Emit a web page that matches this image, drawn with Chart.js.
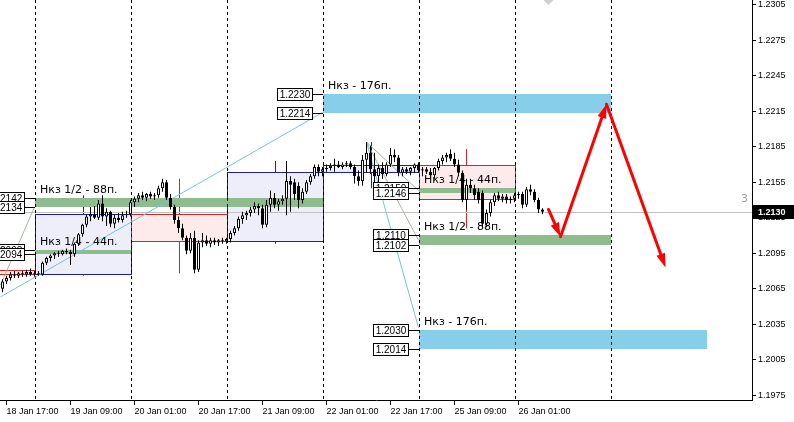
<!DOCTYPE html>
<html>
<head>
<meta charset="utf-8">
<script src="https://cdn.jsdelivr.net/npm/chart.js@4/dist/chart.umd.min.js"></script>
<style>
  html, body { margin: 0; padding: 0; background: #fff; }
  #wrap { width: 794px; height: 422px; }
</style>
</head>
<body>
<div id="wrap"><canvas id="grafico"></canvas></div>
<script>
// velas H1 (indice da barra = hora de negociacao)
var barOpen = [
  1.2065,1.2071,1.2074,1.2077,1.2076,1.2078,1.2077,1.2079,1.2077,1.2078,
  1.2077,1.2087,1.2091,1.2093,1.2095,1.2094,1.2097,1.2096,1.2094,1.2103,
  1.2111,1.2119,1.2126,1.2128,1.2125,1.2137,1.2126,1.2130,1.2120,1.2125,
  1.2123,1.2127,1.2128,1.2138,1.2141,1.2144,1.2142,1.2145,1.2143,1.2144,
  1.2150,1.2155,1.2142,1.2134,1.2123,1.2116,1.2108,1.2097,1.2108,1.2081,
  1.2104,1.2106,1.2103,1.2106,1.2104,1.2106,1.2105,1.2107,1.2112,1.2116,
  1.2124,1.2127,1.2129,1.2132,1.2135,1.2133,1.2119,1.2136,1.2142,1.2136,
  1.2139,1.2141,1.2156,1.2155,1.2152,1.2140,1.2147,1.2155,1.2160,1.2168,
  1.2164,1.2166,1.2167,1.2169,1.2170,1.2168,1.2170,1.2171,1.2168,1.2160,
  1.2156,1.2174,1.2180,1.2166,1.2160,1.2167,1.2162,1.2170,1.2178,1.2176,
  1.2163,1.2166,1.2164,1.2167,1.2170,1.2165,1.2166,1.2164,1.2161,1.2167,
  1.2173,1.2176,1.2179,1.2175,1.2170,1.2163,1.2140,1.2153,1.2150,1.2147,
  1.2146,1.2120,1.2129,1.2138,1.2144,1.2141,1.2143,1.2140,1.2141,1.2144,
  1.2145,1.2136,1.2149,1.2147,1.2140,1.2132
];
var barHigh = [
  1.2073,1.2076,1.2079,1.2080,1.2079,1.2080,1.2081,1.2082,1.2080,1.2080,
  1.2088,1.2092,1.2094,1.2096,1.2097,1.2098,1.2099,1.2098,1.2104,1.2112,
  1.2120,1.2128,1.2134,1.2135,1.2140,1.2144,1.2133,1.2131,1.2128,1.2129,
  1.2130,1.2131,1.2140,1.2143,1.2146,1.2147,1.2146,1.2147,1.2146,1.2152,
  1.2158,1.2157,1.2145,1.2136,1.2126,1.2120,1.2110,1.2112,1.2114,1.2106,
  1.2112,1.2110,1.2108,1.2108,1.2107,1.2108,1.2108,1.2114,1.2118,1.2126,
  1.2130,1.2131,1.2134,1.2138,1.2137,1.2136,1.2140,1.2148,1.2146,1.2141,
  1.2144,1.2173,1.2160,1.2158,1.2155,1.2150,1.2157,1.2162,1.2170,1.2170,
  1.2168,1.2170,1.2171,1.2175,1.2173,1.2172,1.2173,1.2173,1.2170,1.2165,
  1.2178,1.2189,1.2186,1.2180,1.2170,1.2172,1.2172,1.2184,1.2183,1.2178,
  1.2168,1.2168,1.2168,1.2171,1.2172,1.2168,1.2168,1.2167,1.2168,1.2175,
  1.2178,1.2180,1.2183,1.2180,1.2174,1.2165,1.2158,1.2158,1.2153,1.2150,
  1.2148,1.2132,1.2140,1.2146,1.2147,1.2145,1.2145,1.2143,1.2146,1.2147,
  1.2147,1.2151,1.2153,1.2149,1.2142,1.2133
];
var barLow = [
  1.2062,1.2069,1.2072,1.2074,1.2074,1.2075,1.2075,1.2076,1.2075,1.2076,
  1.2076,1.2085,1.2088,1.2090,1.2092,1.2093,1.2094,1.2085,1.2092,1.2101,
  1.2109,1.2117,1.2122,1.2124,1.2123,1.2122,1.2118,1.2117,1.2116,1.2121,
  1.2121,1.2125,1.2126,1.2134,1.2138,1.2140,1.2139,1.2141,1.2140,1.2142,
  1.2147,1.2140,1.2132,1.2120,1.2112,1.2106,1.2094,1.2095,1.2078,1.2079,
  1.2100,1.2101,1.2100,1.2102,1.2101,1.2103,1.2103,1.2104,1.2110,1.2114,
  1.2120,1.2123,1.2126,1.2129,1.2127,1.2116,1.2117,1.2130,1.2133,1.2131,
  1.2136,1.2127,1.2130,1.2140,1.2133,1.2137,1.2145,1.2153,1.2158,1.2160,
  1.2160,1.2164,1.2165,1.2164,1.2167,1.2166,1.2168,1.2166,1.2154,1.2152,
  1.2152,1.2163,1.2162,1.2150,1.2150,1.2158,1.2160,1.2168,1.2172,1.2160,
  1.2160,1.2162,1.2161,1.2163,1.2163,1.2160,1.2162,1.2159,1.2158,1.2165,
  1.2170,1.2172,1.2173,1.2168,1.2160,1.2138,1.2132,1.2146,1.2140,1.2137,
  1.2116,1.2117,1.2126,1.2135,1.2139,1.2138,1.2137,1.2137,1.2138,1.2141,
  1.2133,1.2134,1.2144,1.2138,1.2129,1.2128
];
var barClose = [
  1.2071,1.2074,1.2077,1.2076,1.2078,1.2077,1.2079,1.2077,1.2078,1.2077,
  1.2087,1.2091,1.2093,1.2095,1.2094,1.2097,1.2096,1.2094,1.2103,1.2111,
  1.2119,1.2126,1.2128,1.2125,1.2137,1.2126,1.2130,1.2120,1.2125,1.2123,
  1.2127,1.2128,1.2138,1.2141,1.2144,1.2142,1.2145,1.2143,1.2144,1.2150,
  1.2155,1.2142,1.2134,1.2123,1.2116,1.2108,1.2097,1.2108,1.2081,1.2104,
  1.2106,1.2103,1.2106,1.2104,1.2106,1.2105,1.2107,1.2112,1.2116,1.2124,
  1.2127,1.2129,1.2132,1.2135,1.2133,1.2119,1.2136,1.2142,1.2136,1.2139,
  1.2141,1.2156,1.2153,1.2145,1.2140,1.2147,1.2155,1.2160,1.2168,1.2164,
  1.2166,1.2167,1.2169,1.2170,1.2168,1.2170,1.2171,1.2168,1.2160,1.2156,
  1.2174,1.2180,1.2166,1.2160,1.2167,1.2162,1.2170,1.2178,1.2176,1.2163,
  1.2166,1.2164,1.2167,1.2170,1.2165,1.2166,1.2164,1.2161,1.2167,1.2173,
  1.2176,1.2178,1.2175,1.2170,1.2163,1.2140,1.2153,1.2150,1.2144,1.2140,
  1.2120,1.2129,1.2138,1.2144,1.2141,1.2143,1.2140,1.2141,1.2144,1.2145,
  1.2136,1.2149,1.2147,1.2140,1.2132,1.2130
];

var tickBars = [1, 17, 33, 49, 65, 81, 97, 113, 129];
var tickLabels = ["18 Jan 17:00", "19 Jan 09:00", "20 Jan 01:00", "20 Jan 17:00", "21 Jan 09:00",
                  "22 Jan 01:00", "22 Jan 17:00", "25 Jan 09:00", "26 Jan 01:00"];
var priceTicks = [1.1975, 1.2005, 1.2035, 1.2065, 1.2095, 1.2125, 1.2155, 1.2185, 1.2215, 1.2245, 1.2275, 1.2305];
var precoAtual = 1.2130;
var separadores = [8, 32, 56, 80, 104, 128, 152];

// velas diarias (caixas)
var diaInicio = [-16, 8, 32, 56, 80, 104];
var diaAbertura = [1.2081, 1.2077, 1.2128, 1.2105, 1.2164, 1.2170];
var diaMax = [1.2090, 1.2144, 1.2158, 1.2173, 1.2189, 1.2183];
var diaMin = [1.2060, 1.2076, 1.2078, 1.2103, 1.2150, 1.2116];
var diaFecho = [1.2077, 1.2128, 1.2105, 1.2164, 1.2170, 1.2141];

// zonas Нкз
var zonaInicio = [80, 104, 8, 8, 104, 104];
var zonaFim = [152, 176, 80, 32, 128, 152];
var zonaTopo = [1.2230, 1.2030, 1.2142, 1.2098, 1.2150, 1.2110];
var zonaBase = [1.2214, 1.2014, 1.2134, 1.2094, 1.2146, 1.2102];
var zonaTexto = ["Нкз - 176п.", "Нкз - 176п.", "Нкз 1/2 - 88п.", "Нкз 1/4 - 44п.", "Нкз 1/4 - 44п.", "Нкз 1/2 - 88п."];

// linhas de projeccao: origem -> zona
var linhaX1 = [-0.5, -0.5, 91, 91, 91];
var linhaY1 = [1.2058, 1.2068, 1.2189, 1.2189, 1.2189];
var linhaZona = [0, 2, 4, 5, 1];
var linhaY2 = [1.2214, 1.2134, 1.2148, 1.2106, 1.2032];

// setas vermelhas (cenario)
var setaBar = [136.5, 139.5, 151, 165.75];
var setaPreco = [1.2132, 1.2109, 1.2221, 1.2083];

var marcaBar = 136.5;
var contagem = "3";

function px(v) { return Math.round(v) + 0.5; }

function pontaSeta(ctx, xa, ya, xb, yb) {
  var ang = Math.atan2(yb - ya, xb - xa);
  var L = 14, W = 4.5;
  var c = Math.cos(ang), s = Math.sin(ang);
  ctx.beginPath();
  ctx.moveTo(xb, yb);
  ctx.lineTo(xb - L * c + W * s, yb - L * s - W * c);
  ctx.lineTo(xb - L * c - W * s, yb - L * s + W * c);
  ctx.closePath();
  ctx.fill();
}

var desenho = {
  id: 'desenho',
  beforeDatasetsDraw: function(chart) {
    var ctx = chart.ctx, xs = chart.scales.x, ys = chart.scales.y, area = chart.chartArea;
    ctx.save();
    ctx.beginPath();
    ctx.rect(area.left, area.top, area.right - area.left, area.bottom - area.top);
    ctx.clip();
    ctx.lineWidth = 1;

    // caixas dos dias
    for (var d = 0; d < diaInicio.length; d++) {
      var x1 = px(xs.getPixelForValue(diaInicio[d]));
      var x2 = px(xs.getPixelForValue(diaInicio[d] + 24));
      var alta = diaFecho[d] >= diaAbertura[d];
      var yT = px(ys.getPixelForValue(Math.max(diaAbertura[d], diaFecho[d])));
      var yB = px(ys.getPixelForValue(Math.min(diaAbertura[d], diaFecho[d])));
      ctx.fillStyle = alta ? '#eeeefb' : '#fdeaea';
      ctx.fillRect(x1, yT, x2 - x1, yB - yT);
      ctx.strokeStyle = alta ? '#1e1ea6' : '#d42424';
      ctx.strokeRect(x1, yT, x2 - x1, yB - yT);
      var xc = px(xs.getPixelForValue(diaInicio[d] + 12));
      ctx.beginPath();
      ctx.moveTo(xc, ys.getPixelForValue(diaMax[d]));
      ctx.lineTo(xc, yT);
      ctx.moveTo(xc, yB);
      ctx.lineTo(xc, ys.getPixelForValue(diaMin[d]));
      ctx.stroke();
    }

    // zonas
    for (var z = 0; z < zonaInicio.length; z++) {
      var zx1 = Math.round(xs.getPixelForValue(zonaInicio[z]));
      var zx2 = Math.round(xs.getPixelForValue(zonaFim[z]));
      var zy1 = Math.round(ys.getPixelForValue(zonaTopo[z]));
      var zy2 = Math.round(ys.getPixelForValue(zonaBase[z]));
      ctx.fillStyle = zonaTexto[z].indexOf('176') >= 0 ? '#87ceeb' : '#8fbc8f';
      ctx.fillRect(zx1, zy1, zx2 - zx1, zy2 - zy1);
    }

    // preco actual
    var yp = px(ys.getPixelForValue(precoAtual));
    ctx.strokeStyle = '#c0c0c0';
    ctx.beginPath();
    ctx.moveTo(area.left, yp);
    ctx.lineTo(area.right, yp);
    ctx.stroke();

    // separadores de dia
    ctx.strokeStyle = '#000';
    ctx.setLineDash([3, 3]);
    separadores.forEach(function(b) {
      var xx = px(xs.getPixelForValue(b));
      ctx.beginPath();
      ctx.moveTo(xx, area.top);
      ctx.lineTo(xx, area.bottom);
      ctx.stroke();
    });
    ctx.setLineDash([]);

    // linhas de projeccao
    for (var l = 0; l < linhaX1.length; l++) {
      var zi = linhaZona[l];
      ctx.strokeStyle = zonaTexto[zi].indexOf('176') >= 0 ? '#72c4dc' : '#9cba9c';
      ctx.beginPath();
      ctx.moveTo(xs.getPixelForValue(linhaX1[l]), ys.getPixelForValue(linhaY1[l]));
      ctx.lineTo(xs.getPixelForValue(zonaInicio[zi]), ys.getPixelForValue(linhaY2[l]));
      ctx.stroke();
    }

    // textos das zonas
    ctx.fillStyle = '#000';
    ctx.font = '11px "DejaVu Sans"';
    ctx.textAlign = 'left';
    ctx.textBaseline = 'alphabetic';
    for (var t = 0; t < zonaTexto.length; t++) {
      ctx.fillText(zonaTexto[t], Math.round(xs.getPixelForValue(zonaInicio[t])) + 5,
                   Math.round(ys.getPixelForValue(zonaTopo[t])) - 5);
    }
    ctx.restore();
  },
  afterDatasetsDraw: function(chart) {
    var ctx = chart.ctx, xs = chart.scales.x, ys = chart.scales.y, area = chart.chartArea;
    ctx.save();
    ctx.beginPath();
    ctx.rect(area.left, area.top, area.right - area.left, area.bottom - area.top);
    ctx.clip();

    // setas
    ctx.strokeStyle = '#ff0000';
    ctx.fillStyle = '#ff0000';
    ctx.lineWidth = 3;
    ctx.lineCap = 'round';
    for (var a = 0; a < setaBar.length - 1; a++) {
      var xa = xs.getPixelForValue(setaBar[a]), ya = ys.getPixelForValue(setaPreco[a]);
      var xb = xs.getPixelForValue(setaBar[a + 1]), yb = ys.getPixelForValue(setaPreco[a + 1]);
      var ang = Math.atan2(yb - ya, xb - xa);
      ctx.beginPath();
      ctx.moveTo(xa, ya);
      ctx.lineTo(xb - 9 * Math.cos(ang), yb - 9 * Math.sin(ang));
      ctx.stroke();
      pontaSeta(ctx, xa, ya, xb, yb);
    }

    // etiquetas de preco das zonas
    ctx.lineWidth = 1;
    ctx.lineCap = 'butt';
    ctx.font = '10px "Liberation Sans"';
    ctx.textAlign = 'center';
    ctx.textBaseline = 'middle';
    for (var z = 0; z < zonaInicio.length; z++) {
      var x0 = Math.round(xs.getPixelForValue(zonaInicio[z]));
      [zonaTopo[z], zonaBase[z]].forEach(function(p) {
        var yy = Math.round(ys.getPixelForValue(p));
        var right = x0 - 11;
        ctx.fillStyle = '#fff';
        ctx.fillRect(right - 35, yy - 6, 35, 12);
        ctx.strokeStyle = '#000';
        ctx.strokeRect(right - 35 + 0.5, yy - 6 + 0.5, 35, 12);
        ctx.beginPath();
        ctx.moveTo(right, yy + 0.5);
        ctx.lineTo(x0, yy + 0.5);
        ctx.stroke();
        ctx.fillStyle = '#000';
        ctx.fillText(p.toFixed(4), right - 17, yy + 1);
      });
    }

    // marca cinzenta no topo
    var mx = xs.getPixelForValue(marcaBar);
    ctx.fillStyle = '#cfcfcf';
    ctx.beginPath();
    ctx.moveTo(mx - 5, area.top);
    ctx.lineTo(mx + 5, area.top);
    ctx.lineTo(mx, area.top + 5);
    ctx.closePath();
    ctx.fill();
    ctx.restore();

    // etiqueta do preco actual no eixo
    var yp = Math.round(ys.getPixelForValue(precoAtual));
    ctx.save();
    ctx.fillStyle = '#000';
    ctx.fillRect(area.right + 1, yp - 7, 41, 14);
    ctx.fillStyle = '#fff';
    ctx.font = 'bold 9px "Liberation Sans"';
    ctx.textAlign = 'left';
    ctx.textBaseline = 'middle';
    ctx.fillText(precoAtual.toFixed(4), area.right + 6, yp + 0.5);
    ctx.fillStyle = '#a0a0a0';
    ctx.font = '11px "DejaVu Sans"';
    ctx.textAlign = 'right';
    ctx.fillText(contagem, area.right - 4, yp - 13);
    ctx.restore();
  }
};

var velas = barOpen.map(function(o, i) { return { x: i, y: [o, barClose[i]] }; });
var pavios = barLow.map(function(l, i) { return { x: i, y: [l, barHigh[i]] }; });
var corCorpo = barOpen.map(function(o, i) { return barClose[i] >= o ? '#ffffff' : '#000000'; });

var ctx = document.getElementById('grafico').getContext('2d');
var grafico = new Chart(ctx, {
  type: 'bar',
  data: {
    datasets: [
      {
        label: 'corpo',
        data: velas,
        grouped: false,
        order: 1,
        barThickness: 3,
        maxBarThickness: 3,
        backgroundColor: corCorpo,
        borderColor: '#000',
        borderWidth: 1,
        borderSkipped: false,
        inflateAmount: 0,
        minBarLength: 1
      },
      {
        label: 'pavio',
        data: pavios,
        grouped: false,
        order: 2,
        barThickness: 1,
        maxBarThickness: 1,
        backgroundColor: '#000',
        borderWidth: 0,
        inflateAmount: 0
      }
    ]
  },
  options: {
    responsive: true,
    maintainAspectRatio: false,
    animation: false,
    devicePixelRatio: 1,
    layout: { padding: 0 },
    plugins: { legend: { display: false }, tooltip: { enabled: false } },
    scales: {
      x: {
        type: 'linear',
        min: -0.625,
        max: 187.375,
        offset: false,
        grid: { offset: false, drawOnChartArea: false, drawTicks: true, tickLength: 5, color: '#000' },
        border: { color: '#000' },
        ticks: {
          align: 'start',
          autoSkip: false,
          maxRotation: 0,
          padding: 1,
          color: '#000',
          font: { family: 'Liberation Sans', size: 9 },
          callback: function(v) { var k = tickBars.indexOf(v); return k >= 0 ? tickLabels[k] : ''; }
        },
        afterBuildTicks: function(axis) { axis.ticks = tickBars.map(function(b) { return { value: b }; }); },
        afterFit: function(axis) { axis.height = 22; axis.paddingLeft = 0; axis.paddingRight = 0; }
      },
      y: {
        position: 'right',
        min: 1.19708,
        max: 1.23092,
        grid: { drawOnChartArea: false, drawTicks: true, tickLength: 4, color: '#000' },
        border: { color: '#000' },
        ticks: {
          padding: 2,
          color: '#000',
          font: { family: 'Liberation Sans', size: 9 },
          callback: function(v) { return Number(v).toFixed(4); }
        },
        afterBuildTicks: function(axis) { axis.ticks = priceTicks.map(function(p) { return { value: p }; }); },
        afterFit: function(axis) { axis.width = 42; axis.paddingTop = 0; axis.paddingBottom = 0; }
      }
    }
  },
  plugins: [desenho]
});
</script>
</body>
</html>
